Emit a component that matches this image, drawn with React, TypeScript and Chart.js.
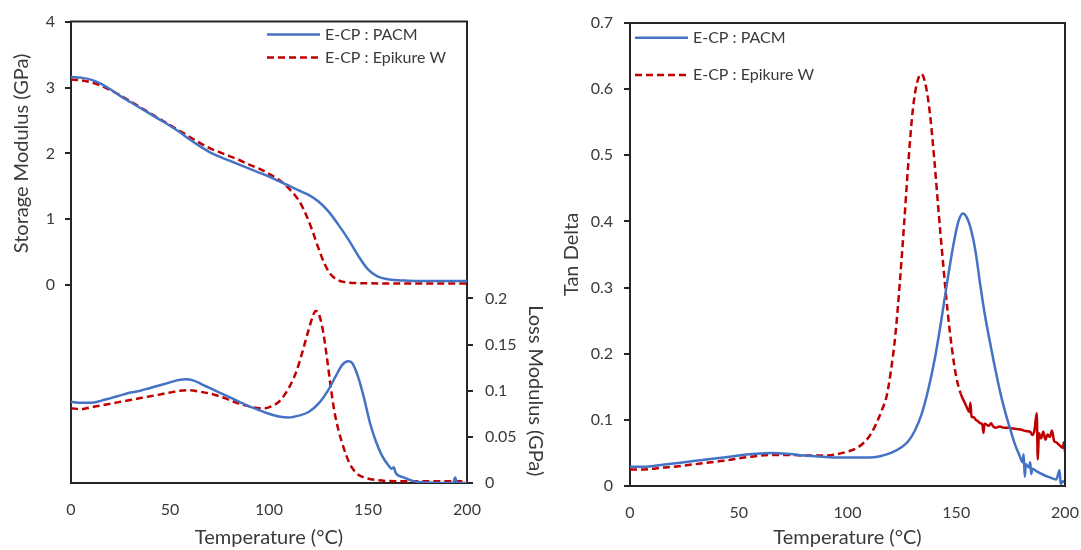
import React, { useEffect, useRef } from 'react';
import { Chart, registerables } from 'chart.js';

Chart.register(...registerables);

const FONT = 'Lato, "Noto Sans", "DejaVu Sans", sans-serif';
const TEXT = '#3a3a3a';
const AXIS = '#262626';
const BLUE = '#4472C4';
const RED = '#C00000';
const DASH = [7, 4];

const seriesNames = ['E-CP : PACM', 'E-CP : Epikure W'];
const xTitle = 'Temperature (°C)';
const storageTitle = 'Storage Modulus (GPa)';
const lossTitle = 'Loss Modulus (GPa)';
const tanTitle = 'Tan Delta';

// Storage modulus (GPa)
const storagePacmT = [0, 5, 10, 15, 20, 25, 30, 35, 40, 45, 50, 55, 60, 65, 70, 75, 80, 85, 90, 95, 100, 105, 110, 115, 120, 125, 130, 135, 140, 145, 150, 155, 160, 165, 170, 180, 190, 200];
const storagePacm = [3.16, 3.15, 3.12, 3.06, 2.97, 2.87, 2.78, 2.69, 2.6, 2.51, 2.42, 2.32, 2.21, 2.11, 2.02, 1.95, 1.89, 1.83, 1.77, 1.71, 1.65, 1.58, 1.51, 1.44, 1.37, 1.27, 1.12, 0.92, 0.7, 0.45, 0.24, 0.13, 0.09, 0.075, 0.07, 0.065, 0.065, 0.065];
const storageEpiT = [0, 5, 10, 15, 20, 25, 30, 35, 40, 45, 50, 55, 60, 65, 70, 75, 80, 85, 90, 95, 100, 105, 108, 110, 113, 116, 119, 122, 125, 128, 131, 134, 137, 140, 150, 170, 200];
const storageEpi = [3.12, 3.11, 3.08, 3.03, 2.96, 2.88, 2.79, 2.7, 2.61, 2.52, 2.43, 2.34, 2.25, 2.16, 2.08, 2.02, 1.96, 1.9, 1.83, 1.77, 1.69, 1.6, 1.53, 1.47, 1.37, 1.24, 1.05, 0.82, 0.56, 0.33, 0.17, 0.09, 0.055, 0.04, 0.03, 0.025, 0.025];

// Loss modulus (GPa)
const lossPacmT = [0, 5, 10, 15, 20, 25, 30, 35, 40, 45, 50, 55, 58, 62, 66, 70, 75, 80, 85, 90, 95, 100, 105, 110, 115, 120, 125, 130, 134, 137, 140, 142, 145, 148, 151, 154, 157, 160, 162, 163, 164, 168, 173, 180, 190, 193, 194, 195, 200];
const lossPacm = [0.088, 0.087, 0.087, 0.089, 0.092, 0.095, 0.098, 0.1, 0.103, 0.106, 0.109, 0.112, 0.1125, 0.111, 0.107, 0.103, 0.098, 0.093, 0.088, 0.083, 0.079, 0.075, 0.072, 0.071, 0.073, 0.077, 0.086, 0.101, 0.117, 0.128, 0.132, 0.13, 0.115, 0.092, 0.065, 0.045, 0.03, 0.02, 0.0155, 0.017, 0.011, 0.006, 0.002, 0.0005, 0, 0, 0.006, 0, 0];
const lossEpiT = [0, 5, 10, 15, 20, 25, 30, 35, 40, 45, 50, 55, 60, 65, 70, 75, 80, 85, 90, 95, 98, 101, 105, 108, 111, 114, 117, 120, 122, 123.5, 125, 127, 129, 131, 133, 135, 137, 139, 141, 144, 148, 155, 165, 180, 200];
const lossEpi = [0.081, 0.08, 0.082, 0.084, 0.086, 0.088, 0.09, 0.092, 0.094, 0.096, 0.098, 0.1, 0.1005, 0.099, 0.097, 0.094, 0.09, 0.086, 0.083, 0.081, 0.081, 0.083, 0.088, 0.096, 0.107, 0.122, 0.143, 0.166, 0.18, 0.1865, 0.184, 0.168, 0.14, 0.107, 0.078, 0.058, 0.043, 0.03, 0.02, 0.011, 0.006, 0.003, 0.002, 0.002, 0.002];

// Tan delta
const tanPacmT = [0, 5, 10, 15, 20, 25, 30, 35, 40, 45, 50, 55, 60, 65, 70, 75, 80, 85, 90, 95, 100, 105, 110, 115, 120, 125, 128, 131, 134, 137, 140, 143, 146, 149, 151, 153, 155, 157, 159, 161, 163, 165, 167, 169, 171, 173, 175, 177, 179, 180.5, 181, 181.5, 182, 183.5, 184, 184.5, 185, 187, 190, 193, 196, 197.5, 198, 199, 200];
const tanPacm = [0.029, 0.029, 0.03, 0.032, 0.034, 0.036, 0.038, 0.04, 0.042, 0.044, 0.046, 0.048, 0.049, 0.05, 0.049, 0.048, 0.046, 0.045, 0.044, 0.043, 0.043, 0.043, 0.043, 0.045, 0.05, 0.059, 0.068, 0.084, 0.108, 0.144, 0.19, 0.248, 0.312, 0.37, 0.4, 0.412, 0.405, 0.385, 0.352, 0.305, 0.262, 0.226, 0.192, 0.16, 0.131, 0.106, 0.084, 0.063, 0.047, 0.036, 0.048, 0.014, 0.033, 0.028, 0.036, 0.018, 0.026, 0.022, 0.017, 0.013, 0.01, 0.024, 0.003, 0.007, 0.005];
const tanEpiT = [0, 5, 10, 15, 20, 25, 30, 35, 40, 45, 50, 55, 60, 65, 70, 75, 80, 85, 90, 95, 100, 104, 108, 111, 114, 116, 118, 120, 122, 124, 126, 128, 130, 132, 134, 136, 138, 140, 142, 144, 146, 148, 150, 152, 154, 155, 156, 156.5, 157, 158, 159, 160, 161, 162, 162.5, 163, 165, 166, 167, 168, 170, 172, 174, 176, 178, 180, 182, 184, 185, 186, 187, 187.5, 188, 189, 190, 191, 192, 193, 194, 195, 196, 197, 198, 199, 199.5, 200];
const tanEpi = [0.025, 0.025, 0.026, 0.028, 0.029, 0.031, 0.033, 0.035, 0.037, 0.039, 0.042, 0.044, 0.046, 0.047, 0.047, 0.047, 0.046, 0.046, 0.046, 0.048, 0.052, 0.057, 0.067, 0.08, 0.1, 0.116, 0.136, 0.175, 0.228, 0.305, 0.395, 0.49, 0.568, 0.61, 0.623, 0.605, 0.56, 0.49, 0.41, 0.335, 0.265, 0.208, 0.165, 0.14, 0.125, 0.118, 0.112, 0.126, 0.105, 0.104, 0.1, 0.098, 0.095, 0.093, 0.08, 0.094, 0.091, 0.095, 0.09, 0.088, 0.09, 0.088, 0.088, 0.087, 0.086, 0.085, 0.083, 0.082, 0.077, 0.085, 0.11, 0.04, 0.08, 0.072, 0.082, 0.07, 0.078, 0.074, 0.084, 0.068, 0.066, 0.063, 0.06, 0.058, 0.066, 0.052];

const xTicksStep = 50;

const pts = (xs: number[], ys: number[]) => xs.map((x, i) => ({ x, y: ys[i] }));
const fmt = (v: number) => String(parseFloat(Number(v).toFixed(2)));

const line = (label: string, data: any, color: string, dashed: boolean, yAxisID: string, extra: any = {}) => ({
  label,
  data,
  yAxisID,
  borderColor: color,
  backgroundColor: color,
  borderWidth: 2.5,
  borderDash: dashed ? DASH : [],
  pointRadius: 0,
  cubicInterpolationMode: 'monotone',
  fill: false,
  ...extra,
});

const tickFont = { family: FONT, size: 16 };
const TITLE_SIZE = 20;

function drawText(ctx: CanvasRenderingContext2D, text: string, x: number, y: number, rot: number, size: number) {
  ctx.save();
  ctx.translate(x, y);
  ctx.rotate(rot);
  ctx.font = `${size}px ${FONT}`;
  ctx.fillStyle = TEXT;
  ctx.textAlign = 'center';
  ctx.textBaseline = 'middle';
  ctx.fillText(text, 0, 0);
  ctx.restore();
}

function drawLegend(ctx: CanvasRenderingContext2D, x0: number, x1: number, tx: number, ys: number[]) {
  const styles = [
    { color: BLUE, dash: [] as number[] },
    { color: RED, dash: DASH },
  ];
  ctx.save();
  styles.forEach((s, i) => {
    ctx.beginPath();
    ctx.setLineDash(s.dash);
    ctx.strokeStyle = s.color;
    ctx.lineWidth = 2.5;
    ctx.moveTo(x0, ys[i]);
    ctx.lineTo(x1, ys[i]);
    ctx.stroke();
    ctx.setLineDash([]);
    ctx.font = `16px ${FONT}`;
    ctx.fillStyle = TEXT;
    ctx.textAlign = 'left';
    ctx.textBaseline = 'middle';
    ctx.fillText(seriesNames[i], tx, ys[i]);
  });
  ctx.restore();
}

function frameLines(ctx: CanvasRenderingContext2D, ca: any, right: boolean) {
  ctx.save();
  ctx.strokeStyle = AXIS;
  ctx.lineWidth = 2;
  ctx.beginPath();
  ctx.moveTo(ca.left - 1, ca.top);
  ctx.lineTo(ca.right + 1, ca.top);
  if (right) {
    ctx.moveTo(ca.right, ca.top);
    ctx.lineTo(ca.right, ca.bottom);
  }
  ctx.stroke();
  ctx.restore();
}

const tickColor = (hide: (v: number) => boolean) => (c: any) =>
  c.tick && hide(c.tick.value) ? 'rgba(0,0,0,0)' : AXIS;

export default function App() {
  const leftRef = useRef<HTMLCanvasElement>(null);
  const rightRef = useRef<HTMLCanvasElement>(null);

  useEffect(() => {
    const leftDeco = {
      id: 'leftDeco',
      afterDraw(chart: any) {
        const ctx = chart.ctx;
        const ca = chart.chartArea;
        frameLines(ctx, ca, false);
        drawText(ctx, storageTitle, 22, chart.scales.y.getPixelForValue(2), -Math.PI / 2, TITLE_SIZE);
        drawText(ctx, lossTitle, 535, chart.scales.y1.getPixelForValue(0.1), Math.PI / 2, TITLE_SIZE);
        drawText(ctx, xTitle, (ca.left + ca.right) / 2, 538, 0, TITLE_SIZE);
        drawLegend(ctx, 267, 320, 325, [34.5, 57.5]);
      },
    };
    const rightDeco = {
      id: 'rightDeco',
      afterDraw(chart: any) {
        const ctx = chart.ctx;
        const ca = chart.chartArea;
        frameLines(ctx, ca, true);
        drawText(ctx, tanTitle, 32, (ca.top + ca.bottom) / 2, -Math.PI / 2, TITLE_SIZE);
        drawText(ctx, xTitle, (ca.left + ca.right) / 2, 538, 0, TITLE_SIZE);
        drawLegend(ctx, 95, 148, 153, [37.7, 75]);
      },
    };

    const xScale = (h: number) => ({
      type: 'linear',
      min: 0,
      max: 200,
      ticks: { stepSize: xTicksStep, padding: 9, font: tickFont, color: TEXT, maxRotation: 0 },
      grid: { display: false },
      border: { display: true, color: AXIS, width: 2 },
      afterFit: (s: any) => {
        s.height = h;
        s.paddingLeft = 0;
        s.paddingRight = 0;
      },
    });

    const left = new Chart(leftRef.current as HTMLCanvasElement, {
      type: 'line',
      data: {
        datasets: [
          line(seriesNames[0], pts(storagePacmT, storagePacm), BLUE, false, 'y'),
          line(seriesNames[1], pts(storageEpiT, storageEpi), RED, true, 'y'),
          line(seriesNames[0], pts(lossPacmT, lossPacm), BLUE, false, 'y1'),
          line(seriesNames[1], pts(lossEpiT, lossEpi), RED, true, 'y1'),
        ] as any,
      },
      options: {
        responsive: false,
        animation: false,
        layout: { padding: { left: 0, top: 18, right: 20, bottom: 0 } },
        plugins: { legend: { display: false }, tooltip: { enabled: false } },
        scales: {
          x: xScale(67),
          y: {
            type: 'linear',
            position: 'left',
            min: -3,
            max: 4,
            ticks: { stepSize: 1, padding: 10, font: tickFont, color: TEXT, callback: (v: any) => (v < 0 ? '' : fmt(v)) },
            grid: { display: true, drawOnChartArea: false, drawTicks: true, tickLength: 6, lineWidth: 2, color: tickColor((v) => v < 0) },
            border: { display: true, color: AXIS, width: 2 },
            afterFit: (s: any) => {
              s.width = 71;
            },
          },
          y1: {
            type: 'linear',
            position: 'right',
            min: 0,
            max: 0.5,
            ticks: { stepSize: 0.05, padding: 12, font: tickFont, color: TEXT, callback: (v: any) => (v > 0.2001 ? '' : fmt(v)) },
            grid: { display: true, drawOnChartArea: false, drawTicks: true, tickLength: 6, lineWidth: 2, color: tickColor((v) => v > 0.2001) },
            border: { display: true, color: AXIS, width: 2 },
            afterFit: (s: any) => {
              s.width = 73;
            },
          },
        } as any,
      },
      plugins: [leftDeco],
    });

    const right = new Chart(rightRef.current as HTMLCanvasElement, {
      type: 'line',
      data: {
        datasets: [
          line(seriesNames[0], pts(tanPacmT, tanPacm), BLUE, false, 'y'),
          line(seriesNames[1], pts(tanEpiT, tanEpi), RED, true, 'y', {
            segment: { borderDash: (c: any) => (c.p0.parsed.x >= 151 ? [] : undefined) },
          }),
        ] as any,
      },
      options: {
        responsive: false,
        animation: false,
        layout: { padding: { left: 0, top: 23, right: 16, bottom: 0 } },
        plugins: { legend: { display: false }, tooltip: { enabled: false } },
        scales: {
          x: xScale(64),
          y: {
            type: 'linear',
            position: 'left',
            min: 0,
            max: 0.7,
            ticks: { stepSize: 0.1, padding: 11, font: tickFont, color: TEXT, callback: (v: any) => fmt(v) },
            grid: { display: true, drawOnChartArea: false, drawTicks: true, tickLength: 6, lineWidth: 2, color: AXIS },
            border: { display: true, color: AXIS, width: 2 },
            afterFit: (s: any) => {
              s.width = 90;
            },
          },
        } as any,
      },
      plugins: [rightDeco],
    });

    return () => {
      left.destroy();
      right.destroy();
    };
  }, []);

  return (
    <div style={{ position: 'absolute', left: 0, top: 0, width: 1081, height: 550, background: '#fff' }}>
      <canvas ref={leftRef} width={560} height={550} style={{ position: 'absolute', left: 0, top: 0, width: 560, height: 550 }} />
      <canvas ref={rightRef} width={541} height={550} style={{ position: 'absolute', left: 540, top: 0, width: 541, height: 550 }} />
    </div>
  );
}
